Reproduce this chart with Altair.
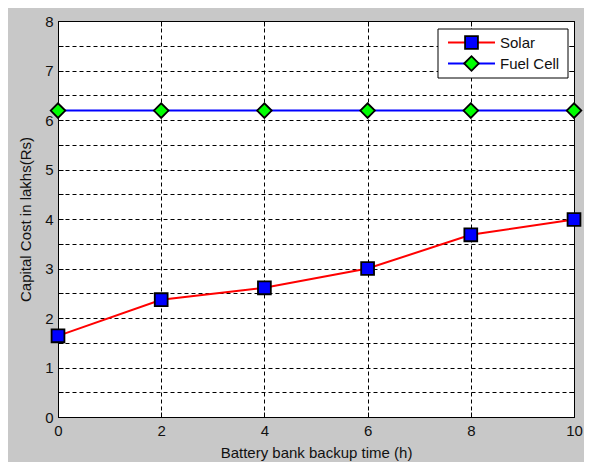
import altair as alt
import pandas as pd

# ---- data ----
hours = [0, 2, 4, 6, 8, 10]
solar = [1.64, 2.37, 2.61, 3.00, 3.68, 3.99]
fuel_cell = [6.19, 6.19, 6.19, 6.19, 6.19, 6.19]
series_names = ["Solar", "Fuel Cell"]
line_colors = ["#ff0000", "#0000ff"]
marker_fills = ["#0000ff", "#00ff00"]
marker_shapes = ["square", "diamond"]
marker_sizes = [165, 215]
x_ticks = [0, 2, 4, 6, 8, 10]
y_ticks = [0, 0.5, 1, 1.5, 2, 2.5, 3, 3.5, 4, 4.5, 5, 5.5, 6, 6.5, 7, 7.5, 8]
x_title = "Battery bank backup time (h)"
y_title = "Capital Cost in lakhs(Rs)"

df = pd.DataFrame({
    "hours": hours + hours,
    "cost": solar + fuel_cell,
    "series": [series_names[0]] * len(hours) + [series_names[1]] * len(hours),
})

W, H = 516, 396
FONT = "Liberation Sans"
TXT = "#111111"
GRAY = "#c8c8c8"

x_scale = alt.Scale(domain=[0, 10], nice=False, zero=False)
y_scale = alt.Scale(domain=[0, 8], nice=False, zero=False)

main_x_axis = alt.Axis(
    orient="bottom", values=x_ticks, grid=True, gridDash=[4, 3], gridColor="black",
    gridOpacity=1, gridWidth=1, ticks=False, tickSize=0, domain=False,
    labelFont=FONT, labelFontSize=15, labelColor=TXT, labelPadding=6,
    labelFlush=False, labelOverlap=False, format="d",
    titleFont=FONT, titleFontSize=15, titleFontWeight="normal", titleColor=TXT,
    titleBaseline="alphabetic", titleY=40,
)
main_y_axis = alt.Axis(
    orient="left", values=y_ticks, grid=True, gridDash=[4, 3], gridColor="black",
    gridOpacity=1, gridWidth=1, ticks=False, tickSize=0, domain=False,
    labelFont=FONT, labelFontSize=15, labelColor=TXT, labelPadding=5,
    labelFlush=False, labelOverlap=False,
    labelExpr="datum.value % 1 === 0 ? '' + datum.value : ''",
    titleFont=FONT, titleFontSize=15, titleFontWeight="normal", titleColor=TXT,
    titleBaseline="alphabetic", titleX=-28,
)


def tick_axis(orient, values):
    return alt.Axis(
        orient=orient, values=values, offset=-5, tickSize=5, ticks=True,
        tickColor="black", tickWidth=1, labels=False, domain=False, grid=False,
    )


color_scale = alt.Scale(domain=series_names, range=line_colors)
fill_scale = alt.Scale(domain=series_names, range=marker_fills)
shape_scale = alt.Scale(domain=series_names, range=marker_shapes)
size_scale = alt.Scale(domain=series_names, range=marker_sizes)

lines = alt.Chart(df).mark_line(strokeWidth=2).encode(
    x=alt.X("hours:Q", scale=x_scale, axis=main_x_axis, title=x_title),
    y=alt.Y("cost:Q", scale=y_scale, axis=main_y_axis, title=y_title),
    color=alt.Color("series:N", scale=color_scale, legend=None),
    detail="series:N",
)

points = alt.Chart(df).mark_point(
    filled=True, stroke="black", strokeWidth=1.8, opacity=1
).encode(
    x=alt.X("hours:Q", scale=x_scale, axis=tick_axis("bottom", x_ticks), title=""),
    y=alt.Y("cost:Q", scale=y_scale, axis=tick_axis("left", y_ticks), title=""),
    fill=alt.Fill("series:N", scale=fill_scale, legend=None),
    shape=alt.Shape("series:N", scale=shape_scale, legend=None),
    size=alt.Size("series:N", scale=size_scale, legend=None),
)

ghost = alt.Chart(df).mark_point(opacity=0).encode(
    x=alt.X("hours:Q", scale=x_scale, axis=tick_axis("top", x_ticks), title=""),
    y=alt.Y("cost:Q", scale=y_scale, axis=tick_axis("right", y_ticks), title=""),
)

# ---- legend (box, line sample, marker, label) ----
legend_layers = [
    alt.Chart(alt.Data(values=[{"k": 1}])).mark_rect(
        fill="white", stroke="black", strokeWidth=1
    ).encode(x=alt.value(380), x2=alt.value(510), y=alt.value(8), y2=alt.value(57))
]
row_y = [21.5, 42.5]
for i, name in enumerate(series_names):
    d = alt.Data(values=[{"series": name}])
    legend_layers.append(
        alt.Chart(d).mark_rule(color=line_colors[i], strokeWidth=2).encode(
            x=alt.value(390), x2=alt.value(437), y=alt.value(row_y[i])
        )
    )
    legend_layers.append(
        alt.Chart(d).mark_point(
            shape=marker_shapes[i], filled=True, fill=marker_fills[i], stroke="black",
            strokeWidth=1.8, size=marker_sizes[i], opacity=1
        ).encode(x=alt.value(413.5), y=alt.value(row_y[i]))
    )
    legend_layers.append(
        alt.Chart(d).mark_text(
            align="left", baseline="middle", font=FONT, fontSize=15, color=TXT
        ).encode(x=alt.value(442), y=alt.value(row_y[i]), text="series:N")
    )

chart = alt.layer(lines, points, ghost, *legend_layers).resolve_axis(
    x="independent", y="independent"
).properties(
    width=W, height=H,
    autosize=alt.AutoSizeParams(type="none"),
    padding={"left": 50, "top": 13, "right": 10, "bottom": 45},
    background=GRAY,
).configure_view(fill="white", stroke="black", strokeWidth=1)

chart.save("out.html", embed_options={"renderer": "svg", "actions": False})
